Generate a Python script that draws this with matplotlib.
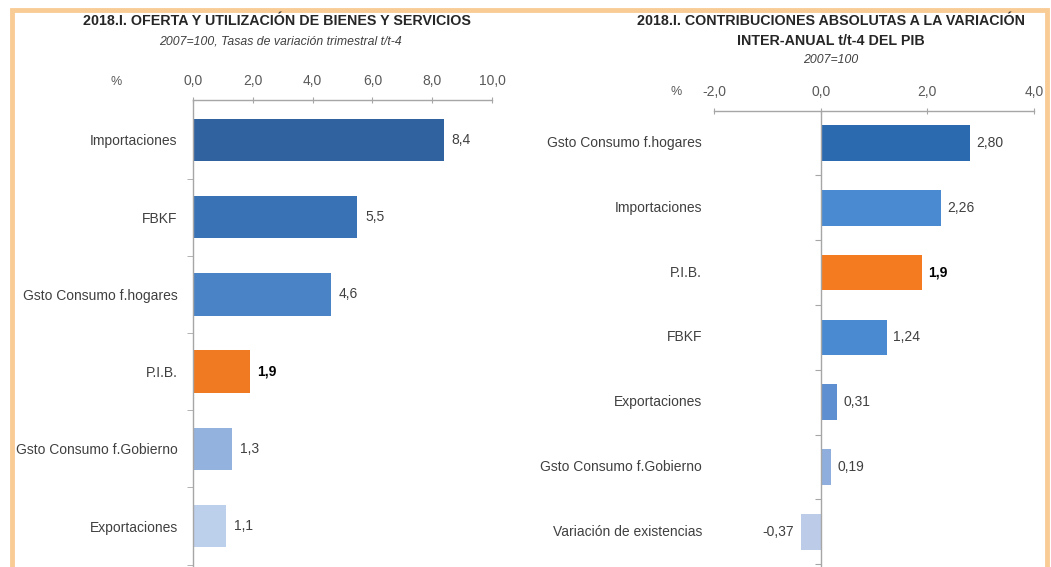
import matplotlib
matplotlib.use("Agg")
from matplotlib import pyplot as plt, patches, transforms

plt.rcParams["font.family"] = ["Liberation Sans", "DejaVu Sans"]

# left chart: oferta y utilizacion
left_cats = ["Importaciones", "FBKF", "Gsto Consumo f.hogares", "P.I.B.",
             "Gsto Consumo f.Gobierno", "Exportaciones"]
left_vals = [8.4, 5.5, 4.6, 1.9, 1.3, 1.1]
left_labels = ["8,4", "5,5", "4,6", "1,9", "1,3", "1,1"]
left_colors = ["#30629f", "#3a72b6", "#4b84c6", "#f07a22", "#93b2de", "#bccfeb"]
left_ticks = [0, 2, 4, 6, 8, 10]
left_ticklabels = ["0,0", "2,0", "4,0", "6,0", "8,0", "10,0"]

# right chart: contribuciones
right_cats = ["Gsto Consumo f.hogares", "Importaciones", "P.I.B.", "FBKF",
              "Exportaciones", "Gsto Consumo f.Gobierno", "Variación de existencias"]
right_vals = [2.80, 2.26, 1.9, 1.24, 0.31, 0.19, -0.37]
right_labels = ["2,80", "2,26", "1,9", "1,24", "0,31", "0,19", "-0,37"]
right_colors = ["#2c6ab0", "#4a8ad0", "#f47b20", "#4a8ad0", "#5e8fd0", "#8faedd", "#bccbe8"]
right_ticks = [-2, 0, 2, 4]
right_ticklabels = ["-2,0", "0,0", "2,0", "4,0"]

W, H = 1051, 567
fig = plt.figure(figsize=(W / 100, H / 100), dpi=100)

TXT = "#404040"
AXC = "#a6a6a6"


def px(x, y):
    return x / W, 1 - y / H


def style_axes(ax, ticks, ticklabels):
    ax.xaxis.tick_top()
    ax.set_xticks(ticks)
    ax.set_xticklabels(ticklabels)
    ax.tick_params(axis="x", direction="inout", length=5, color=AXC, pad=6,
                   labelsize=10, labelcolor="#595959")
    for s in ["right", "bottom"]:
        ax.spines[s].set_visible(False)
    for s in ["top", "left"]:
        ax.spines[s].set_color(AXC)
        ax.spines[s].set_linewidth(1)
    ax.set_facecolor("none")


# ---- left ----
axl = fig.add_axes([193 / W, 0, 299 / W, (H - 100) / H])
ypos = list(range(len(left_vals)))
axl.barh(ypos, left_vals, height=0.55, color=left_colors, edgecolor="none")
axl.set_xlim(0, 10)
axl.set_ylim(5.531, -0.518)
style_axes(axl, left_ticks, left_ticklabels)
axl.set_yticks(ypos)
axl.set_yticklabels(left_cats, fontsize=10, color=TXT)
axl.tick_params(axis="y", length=0, pad=11)
axl.set_yticks([i + 0.5 for i in range(len(left_vals))], minor=True)
axl.tick_params(axis="y", which="minor", length=4, direction="out", color=AXC)
for i, (v, lab) in enumerate(zip(left_vals, left_labels)):
    bold = lab == "1,9"
    axl.annotate(lab, (v, i), xytext=(5.5, 0), textcoords="offset points",
                 va="center", ha="left", fontsize=10, color="#000000" if bold else TXT,
                 fontweight="bold" if bold else "normal")

# ---- right ----
axr = fig.add_axes([714 / W, 0, 320 / W, (H - 111) / H])
rpos = list(range(len(right_vals)))
axr.barh(rpos, right_vals, height=0.55, color=right_colors, edgecolor="none")
axr.set_xlim(-2, 4)
axr.set_ylim(6.543, -0.494)
style_axes(axr, right_ticks, right_ticklabels)
axr.spines["left"].set_position(("data", 0))
axr.set_yticks([i + 0.5 for i in range(len(right_vals))])
axr.set_yticklabels([])
axr.tick_params(axis="y", length=4, direction="out", color=AXC)
blend = transforms.blended_transform_factory(axr.transAxes, axr.transData)
for i, c in enumerate(right_cats):
    axr.text(-0.0375, i, c, transform=blend, ha="right", va="center",
             fontsize=10, color=TXT)
for i, (v, lab) in enumerate(zip(right_vals, right_labels)):
    bold = lab == "1,9"
    off = 4.5 if v >= 0 else -5
    axr.annotate(lab, (v, i), xytext=(off, 0), textcoords="offset points",
                 va="center", ha="left" if v >= 0 else "right", fontsize=10,
                 color="#000000" if bold else TXT,
                 fontweight="bold" if bold else "normal")

# ---- titles ----
fig.text(*px(277, 21), "2018.I. OFERTA Y UTILIZACIÓN DE BIENES Y SERVICIOS",
         ha="center", va="center", fontsize=10.3, fontweight="bold", color="#262626")
fig.text(*px(280, 42), "2007=100, Tasas de variación trimestral t/t-4",
         ha="center", va="center", fontsize=8.8, style="italic", color=TXT)
fig.text(*px(831, 21), "2018.I. CONTRIBUCIONES ABSOLUTAS A LA VARIACIÓN",
         ha="center", va="center", fontsize=10.3, fontweight="bold", color="#262626")
fig.text(*px(831, 41), "INTER-ANUAL t/t-4 DEL PIB",
         ha="center", va="center", fontsize=10.3, fontweight="bold", color="#262626")
fig.text(*px(831, 60), "2007=100",
         ha="center", va="center", fontsize=8.8, style="italic", color=TXT)
fig.text(*px(116, 82), "%", ha="center", va="center", fontsize=9, color="#595959")
fig.text(*px(676, 92), "%", ha="center", va="center", fontsize=9, color="#595959")

# orange frame
frame = patches.Rectangle(px(12, 600), (1047 - 12) / W, (600 - 10) / H,
                          transform=fig.transFigure, fill=False,
                          edgecolor="#f9cc96", linewidth=3.5, clip_on=False)
fig.patches.append(frame)

fig.savefig("out.png", dpi=100)
